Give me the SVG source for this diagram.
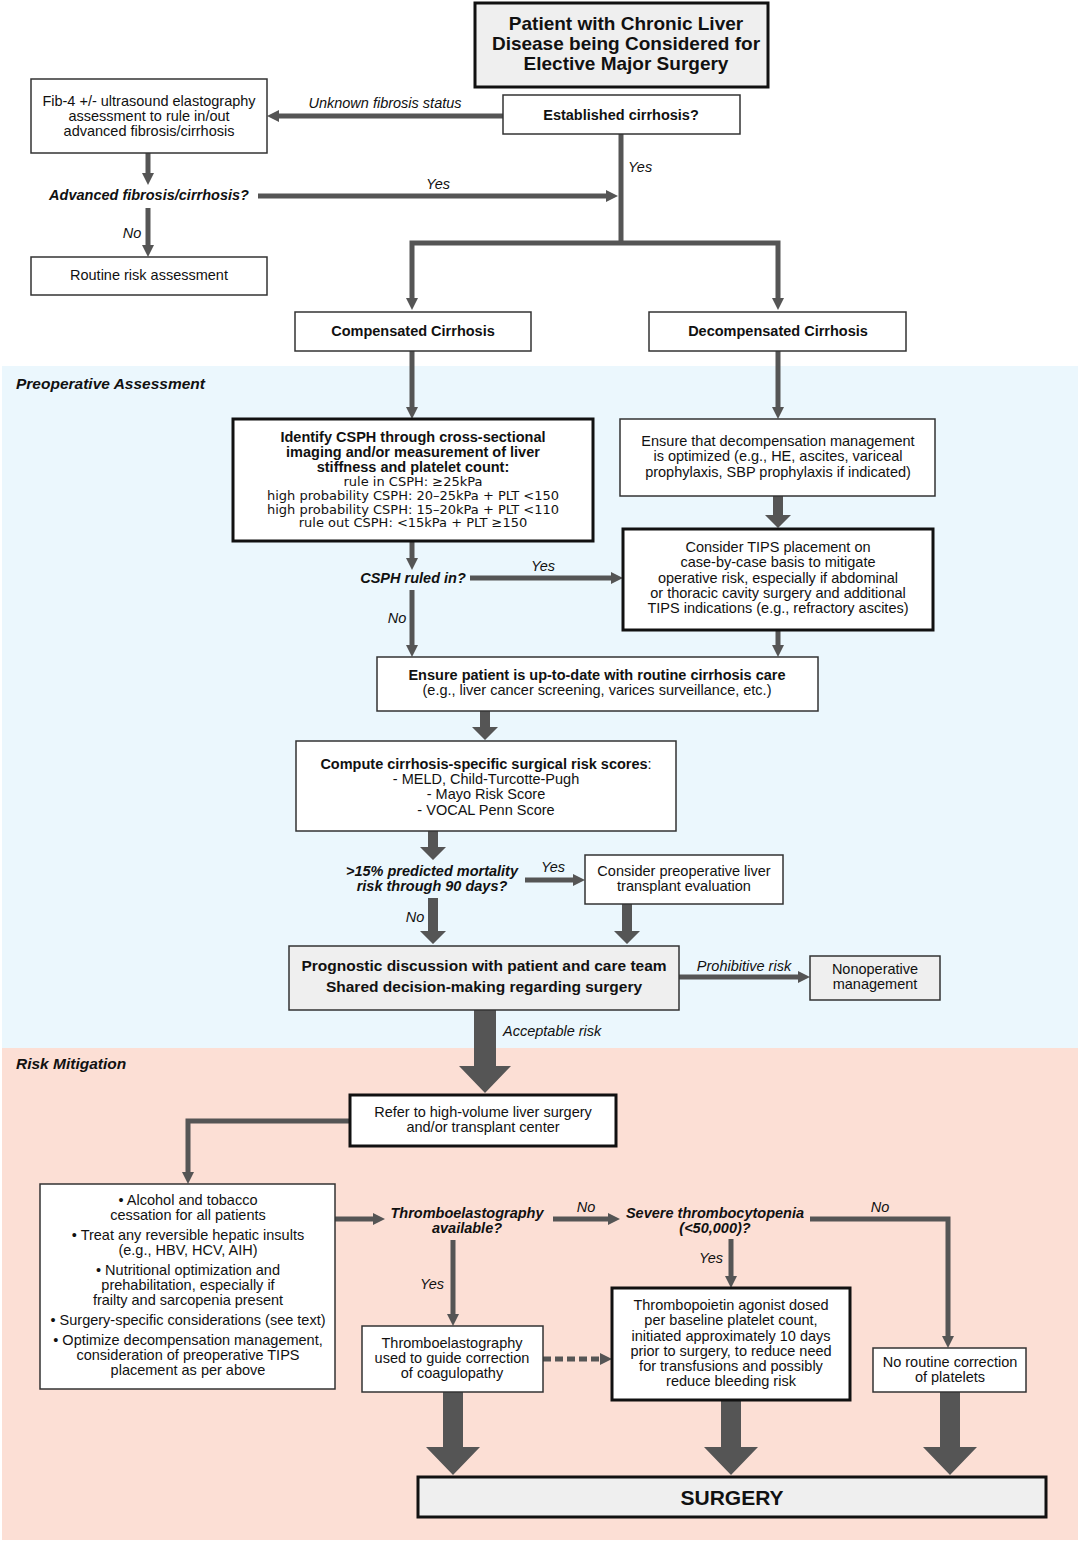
<svg xmlns="http://www.w3.org/2000/svg" width="1080" height="1544" viewBox="0 0 1080 1544">
<defs>
<marker id="ah" viewBox="0 0 12 12" markerWidth="12" markerHeight="12" markerUnits="userSpaceOnUse" refX="4" refY="6" orient="auto"><path d="M0,0 L12,6 L0,12 z" fill="#555"/></marker>
<style>
text{font-family:"Liberation Sans",Arial,sans-serif;font-size:14.5px;fill:#111;text-anchor:middle}
.b{font-weight:bold}
.i{font-style:italic}
.bi{font-weight:bold;font-style:italic}
.dv{font-family:"DejaVu Sans",sans-serif;font-size:13px}
.sec{font-weight:bold;font-style:italic;font-size:15.5px;text-anchor:start}
.st{text-anchor:start}
.box{fill:#fff;stroke:#333;stroke-width:1.5}
.gbox{fill:#efefef;stroke:#333;stroke-width:1.5}
.tbox{fill:#fff;stroke:#111;stroke-width:3}
.tgbox{fill:#efefef;stroke:#111;stroke-width:3}
.c{fill:none;stroke:#555;stroke-width:5;marker-end:url(#ah)}
.ln{fill:none;stroke:#555;stroke-width:5}
.dash{stroke-dasharray:8,4}
.blk{fill:#555;stroke:none}
</style>
</defs>
<rect x="2" y="366" width="1076" height="682" fill="#ebf7fd"/>
<rect x="2" y="1048" width="1076" height="492" fill="#fcdfd5"/>
<text class="sec" x="16" y="389">Preoperative Assessment</text>
<text class="sec" x="16" y="1069">Risk Mitigation</text>

<g id="connectors">
<path class="c" d="M503,116 H275"/>
<path class="c" d="M148,153 V177"/>
<path class="c" d="M258,196 H610"/>
<path class="c" d="M148,208 V249"/>
<path class="ln" d="M621,134 V243"/>
<path class="c" d="M621,243 H412 V302"/>
<path class="c" d="M621,243 H778 V302"/>
<path class="c" d="M412,351 V411"/>
<path class="c" d="M778,351 V411"/>
<path class="c" d="M412,541 V562"/>
<path class="c" d="M470,578 H615"/>
<path class="c" d="M412,590 V649"/>
<path class="c" d="M778,630 V649"/>
<path class="c" d="M525,880 H577"/>
<path class="c" d="M679,977 H802"/>
<path class="c" d="M350,1121 H188 V1176"/>
<path class="c" d="M335,1219 H377"/>
<path class="c" d="M553,1219 H612"/>
<path class="c" d="M810,1219 H948 V1340"/>
<path class="c" d="M731,1239 V1280"/>
<path class="c" d="M453,1240 V1318"/>
<path class="c dash" d="M543,1359 H604"/>
<polygon class="blk" points="773,496 783,496 783,515 791,515 778,528 765,515 773,515"/>
<polygon class="blk" points="480,711 490,711 490,727 498,727 485,740 472,727 480,727"/>
<polygon class="blk" points="428,831 438,831 438,847 446,847 433,860 420,847 428,847"/>
<polygon class="blk" points="428,898 438,898 438,931 446,931 433,944 420,931 428,931"/>
<polygon class="blk" points="622,904 632,904 632,931 640,931 627,944 614,931 622,931"/>
<polygon class="blk" points="474,1010 496,1010 496,1066 511,1066 485,1093 459,1066 474,1066"/>
<polygon class="blk" points="443,1392 463,1392 463,1447 480,1447 453,1475 426,1447 443,1447"/>
<polygon class="blk" points="721,1400 741,1400 741,1447 758,1447 731,1475 704,1447 721,1447"/>
<polygon class="blk" points="940,1392 960,1392 960,1447 977,1447 950,1475 923,1447 940,1447"/>
<text class="i" x="385" y="108">Unknown fibrosis status</text>
<text class="i st" x="628" y="172">Yes</text>
<text class="i" x="438" y="189">Yes</text>
<text class="i" x="132" y="238">No</text>
<text class="i" x="543" y="571">Yes</text>
<text class="i" x="397" y="623">No</text>
<text class="i" x="553" y="872">Yes</text>
<text class="i" x="415" y="922">No</text>
<text class="i" x="744" y="971">Prohibitive risk</text>
<text class="i st" x="503" y="1036">Acceptable risk</text>
<text class="i" x="586" y="1212">No</text>
<text class="i" x="880" y="1212">No</text>
<text class="i" x="711" y="1263">Yes</text>
<text class="i" x="432" y="1289">Yes</text>
</g>

<g id="patient">
<rect class="tgbox" x="475" y="3" width="293" height="84"/>
<text class="b" style="font-size:19px" x="626" y="30">Patient with Chronic Liver</text>
<text class="b" style="font-size:19px" x="626" y="50">Disease being Considered for</text>
<text class="b" style="font-size:19px" x="626" y="70">Elective Major Surgery</text>
</g>
<g id="established">
<rect class="box" x="503" y="95" width="237" height="39"/>
<text class="b" x="621" y="120">Established cirrhosis?</text>
</g>
<g id="fib4">
<rect class="box" x="31" y="79" width="236" height="74"/>
<text x="149" y="106">Fib-4 +/- ultrasound elastography</text>
<text x="149" y="121">assessment to rule in/out</text>
<text x="149" y="136">advanced fibrosis/cirrhosis</text>
</g>
<g id="advanced">
<text class="bi" x="149" y="200">Advanced fibrosis/cirrhosis?</text>
</g>
<g id="routine-risk">
<rect class="box" x="31" y="257" width="236" height="38"/>
<text x="149" y="280">Routine risk assessment</text>
</g>
<g id="compensated">
<rect class="box" x="295" y="312" width="236" height="39"/>
<text class="b" x="413" y="336">Compensated Cirrhosis</text>
</g>
<g id="decompensated">
<rect class="box" x="649" y="312" width="257" height="39"/>
<text class="b" x="778" y="336">Decompensated Cirrhosis</text>
</g>
<g id="csph">
<rect class="tbox" x="233" y="419" width="360" height="122"/>
<text class="b" x="413" y="442">Identify CSPH through cross-sectional</text>
<text class="b" x="413" y="457">imaging and/or measurement of liver</text>
<text class="b" x="413" y="472">stiffness and platelet count:</text>
<text class="dv" x="413" y="486">rule in CSPH: ≥25kPa</text>
<text class="dv" x="413" y="500">high probability CSPH: 20–25kPa + PLT &lt;150</text>
<text class="dv" x="413" y="514">high probability CSPH: 15–20kPa + PLT &lt;110</text>
<text class="dv" x="413" y="527">rule out CSPH: &lt;15kPa + PLT ≥150</text>
</g>
<g id="decomp-mgmt">
<rect class="box" x="620" y="419" width="315" height="77"/>
<text x="778" y="446">Ensure that decompensation management</text>
<text x="778" y="461">is optimized (e.g., HE, ascites, variceal</text>
<text x="778" y="477">prophylaxis, SBP prophylaxis if indicated)</text>
</g>
<g id="csph-q">
<text class="bi" x="413" y="583">CSPH ruled in?</text>
</g>
<g id="tips">
<rect class="tbox" x="623" y="529" width="310" height="101"/>
<text x="778" y="552">Consider TIPS placement on</text>
<text x="778" y="567">case-by-case basis to mitigate</text>
<text x="778" y="583">operative risk, especially if abdominal</text>
<text x="778" y="598">or thoracic cavity surgery and additional</text>
<text x="778" y="613">TIPS indications (e.g., refractory ascites)</text>
</g>
<g id="routine-care">
<rect class="box" x="377" y="657" width="441" height="54"/>
<text class="b" x="597" y="680">Ensure patient is up-to-date with routine cirrhosis care</text>
<text x="597" y="695">(e.g., liver cancer screening, varices surveillance, etc.)</text>
</g>
<g id="scores">
<rect class="box" x="296" y="741" width="380" height="90"/>
<text x="486" y="769"><tspan class="b">Compute cirrhosis-specific surgical risk scores</tspan>:</text>
<text x="486" y="784">- MELD, Child-Turcotte-Pugh</text>
<text x="486" y="799">- Mayo Risk Score</text>
<text x="486" y="815">- VOCAL Penn Score</text>
</g>
<g id="mortality-q">
<text class="bi" x="432" y="876">&gt;15% predicted mortality</text>
<text class="bi" x="432" y="891">risk through 90 days?</text>
</g>
<g id="transplant-eval">
<rect class="box" x="585" y="855" width="198" height="49"/>
<text x="684" y="876">Consider preoperative liver</text>
<text x="684" y="891">transplant evaluation</text>
</g>
<g id="prognostic">
<rect class="gbox" x="289" y="946" width="390" height="64"/>
<text class="b" style="font-size:15.5px" x="484" y="971">Prognostic discussion with patient and care team</text>
<text class="b" style="font-size:15.5px" x="484" y="992">Shared decision-making regarding surgery</text>
</g>
<g id="nonoperative">
<rect class="gbox" x="810" y="956" width="130" height="44"/>
<text x="875" y="974">Nonoperative</text>
<text x="875" y="989">management</text>
</g>
<g id="refer">
<rect class="tbox" x="350" y="1095" width="266" height="51"/>
<text x="483" y="1117">Refer to high-volume liver surgery</text>
<text x="483" y="1132">and/or transplant center</text>
</g>
<g id="bullets">
<rect class="box" x="40" y="1184" width="295" height="205"/>
<text x="188" y="1205">• Alcohol and tobacco</text>
<text x="188" y="1220">cessation for all patients</text>
<text x="188" y="1240">• Treat any reversible hepatic insults</text>
<text x="188" y="1255">(e.g., HBV, HCV, AIH)</text>
<text x="188" y="1275">• Nutritional optimization and</text>
<text x="188" y="1290">prehabilitation, especially if</text>
<text x="188" y="1305">frailty and sarcopenia present</text>
<text x="188" y="1325">• Surgery-specific considerations (see text)</text>
<text x="188" y="1345">• Optimize decompensation management,</text>
<text x="188" y="1360">consideration of preoperative TIPS</text>
<text x="188" y="1375">placement as per above</text>
</g>
<g id="teg-q">
<text class="bi" x="467" y="1218">Thromboelastography</text>
<text class="bi" x="467" y="1233">available?</text>
</g>
<g id="thrombocytopenia-q">
<text class="bi" x="715" y="1218">Severe thrombocytopenia</text>
<text class="bi" x="715" y="1233">(&lt;50,000)?</text>
</g>
<g id="teg">
<rect class="box" x="362" y="1326" width="181" height="66"/>
<text x="452" y="1348">Thromboelastography</text>
<text x="452" y="1363">used to guide correction</text>
<text x="452" y="1378">of coagulopathy</text>
</g>
<g id="tpo">
<rect class="tbox" x="612" y="1288" width="238" height="112"/>
<text x="731" y="1310">Thrombopoietin agonist dosed</text>
<text x="731" y="1325">per baseline platelet count,</text>
<text x="731" y="1341">initiated approximately 10 days</text>
<text x="731" y="1356">prior to surgery, to reduce need</text>
<text x="731" y="1371">for transfusions and possibly</text>
<text x="731" y="1386">reduce bleeding risk</text>
</g>
<g id="no-correction">
<rect class="box" x="873" y="1348" width="153" height="44"/>
<text x="950" y="1367">No routine correction</text>
<text x="950" y="1382">of platelets</text>
</g>
<g id="surgery">
<rect class="tgbox" x="418" y="1477" width="628" height="40"/>
<text class="b" style="font-size:21px" x="732" y="1505">SURGERY</text>
</g>
</svg>
